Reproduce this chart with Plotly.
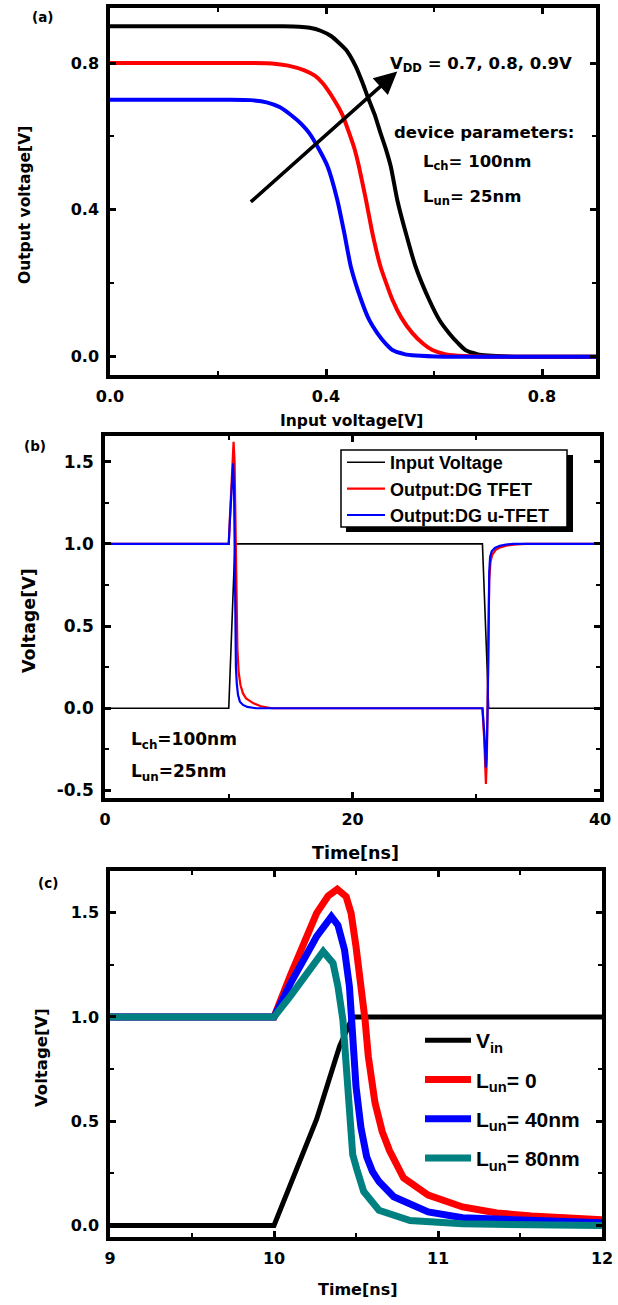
import plotly.graph_objects as go

W, H = 618, 1305
def X(px): return px / W
def Y(py): return 1 - py / H

# ---------------- panel (a): voltage transfer characteristics ----------------
a_x_09 = [0.0, 0.26, 0.32, 0.35, 0.37, 0.39, 0.41, 0.437, 0.455, 0.468, 0.477, 0.490, 0.501, 0.511, 0.520, 0.532, 0.548,
          0.566, 0.591, 0.61, 0.628, 0.645, 0.658, 0.68, 0.70, 0.75, 0.90]
a_y_09 = [0.9, 0.9, 0.9, 0.899, 0.896, 0.888, 0.873, 0.836, 0.791, 0.745, 0.709, 0.66, 0.609, 0.565, 0.518, 0.427, 0.336,
          0.245, 0.155, 0.100, 0.064, 0.036, 0.018, 0.007, 0.003, 0.0, 0.0]
a_x_08 = [0.0, 0.26, 0.30, 0.33, 0.36, 0.38, 0.394, 0.415, 0.430, 0.443, 0.453, 0.461, 0.474, 0.486, 0.501, 0.523, 0.540,
          0.560, 0.580, 0.597, 0.62, 0.64, 0.70, 0.90]
a_y_08 = [0.8, 0.8, 0.799, 0.793, 0.78, 0.765, 0.745, 0.700, 0.66, 0.609, 0.565, 0.518, 0.427, 0.336, 0.245, 0.155, 0.105,
          0.064, 0.035, 0.018, 0.007, 0.003, 0.0, 0.0]
a_x_07 = [0.0, 0.22, 0.26, 0.29, 0.314, 0.338, 0.355, 0.369, 0.387, 0.403, 0.421, 0.434, 0.446, 0.465, 0.480, 0.495,
          0.510, 0.523, 0.545, 0.566, 0.62, 0.90]
a_y_07 = [0.7, 0.7, 0.699, 0.693, 0.680, 0.655, 0.633, 0.609, 0.565, 0.518, 0.427, 0.336, 0.245, 0.155, 0.100, 0.064,
          0.036, 0.018, 0.007, 0.003, 0.0, 0.0]
a_arrow_tail = (0.258, 0.418)
a_arrow_tip = (0.532, 0.777)
a_xticks = [0.0, 0.4, 0.8]
a_xtext = ["0.0", "0.4", "0.8"]
a_yticks = [0.0, 0.4, 0.8]
a_ytext = ["0.0", "0.4", "0.8"]

# ---------------- panel (b): transient over 0-40 ns ----------------
b_in_t = [0, 10.0, 10.5, 30.5, 31.0, 40]
b_in_v = [0, 0, 1, 1, 0, 0]
b_red_t = [0, 10.0, 10.1, 10.2, 10.3, 10.39, 10.47, 10.5, 10.555, 10.62, 10.70, 10.8, 10.95, 11.15, 11.4, 12.0, 12.6, 13.5,
           30.5, 30.65, 30.78, 30.86, 30.92, 30.98, 31.05, 31.15, 31.3, 31.6, 32.0, 32.5, 33.2, 34.0, 40]
b_red_v = [1, 1, 1.17, 1.34, 1.5, 1.62, 1.50, 1.34, 0.99, 0.6, 0.36, 0.22, 0.14, 0.09, 0.06, 0.03, 0.012, 0.0,
           0.0, -0.2, -0.46, -0.3, 0.0, 0.5, 0.78, 0.89, 0.935, 0.965, 0.98, 0.99, 0.997, 1.0, 1.0]
b_blue_t = [0, 10.0, 10.1, 10.2, 10.35, 10.43, 10.48, 10.53, 10.58, 10.65, 10.75, 10.9, 11.15, 11.5, 12.2,
            30.5, 30.65, 30.78, 30.86, 30.92, 30.98, 31.05, 31.12, 31.25, 31.5, 31.9, 32.4, 33.0, 40]
b_blue_v = [1, 1, 1.15, 1.3, 1.49, 1.32, 0.9, 0.45, 0.25, 0.15, 0.08, 0.04, 0.02, 0.008, 0.0,
            0.0, -0.15, -0.36, -0.22, 0.0, 0.55, 0.83, 0.92, 0.955, 0.975, 0.988, 0.995, 1.0, 1.0]
b_names = ["Input Voltage", "Output:DG TFET", "Output:DG u-TFET"]
b_xticks = [0, 20, 40]
b_xtext = ["0", "20", "40"]
b_yticks = [-0.5, 0.0, 0.5, 1.0, 1.5]
b_ytext = ["-0.5", "0.0", "0.5", "1.0", "1.5"]

# ---------------- panel (c): zoom 9-12 ns ----------------
c_in_t = [9, 10.0, 10.26, 10.40, 10.48, 12]
c_in_v = [0, 0, 0.51, 0.86, 1.0, 1.0]
c_l0_t = [9, 10.0, 10.1, 10.2, 10.26, 10.33, 10.386, 10.44, 10.47, 10.50, 10.535, 10.555, 10.575, 10.616, 10.66,
          10.705, 10.79, 10.94, 11.15, 11.36, 11.57, 12.0]
c_l0_v = [1, 1, 1.2, 1.38, 1.498, 1.58, 1.613, 1.577, 1.498, 1.338, 1.146, 0.987, 0.811, 0.588, 0.45,
          0.358, 0.228, 0.146, 0.089, 0.06, 0.046, 0.028]
c_l40_t = [9, 10.0, 10.1, 10.2, 10.26, 10.35, 10.39, 10.43, 10.46, 10.48, 10.50, 10.53, 10.565, 10.6, 10.64,
           10.73, 10.94, 11.15, 11.57, 12.0]
c_l40_v = [1, 1, 1.16, 1.31, 1.386, 1.481, 1.44, 1.322, 1.146, 0.907, 0.667, 0.47, 0.33, 0.26, 0.211,
           0.138, 0.065, 0.037, 0.021, 0.013]
c_l80_t = [9, 10.0, 10.1, 10.2, 10.30, 10.36, 10.39, 10.42, 10.44, 10.46, 10.48, 10.505, 10.547, 10.64, 10.83,
           11.15, 11.5, 12.0]
c_l80_v = [1, 1, 1.1, 1.21, 1.314, 1.258, 1.146, 0.987, 0.747, 0.508, 0.34, 0.27, 0.163, 0.073, 0.024,
           0.008, 0.003, 0.0]
c_names = ["V<sub>in</sub>", "L<sub>un</sub>= 0", "L<sub>un</sub>= 40nm", "L<sub>un</sub>= 80nm"]
c_xticks = [9, 10, 11, 12]
c_xtext = ["9", "10", "11", "12"]
c_yticks = [0.0, 0.5, 1.0, 1.5]
c_ytext = ["0.0", "0.5", "1.0", "1.5"]

FONT = "DejaVu Sans"
LFONT = "Liberation Sans, Arial"
BLACK, RED, BLUE, TEAL = "#000000", "#ff0000", "#0000ff", "#008080"

fig = go.Figure()

# (a)
for xs, ys, col in [(a_x_09, a_y_09, BLACK), (a_x_08, a_y_08, RED), (a_x_07, a_y_07, BLUE)]:
    fig.add_trace(go.Scatter(x=xs, y=ys, mode="lines", xaxis="x", yaxis="y", showlegend=False,
                             line=dict(color=col, width=4, shape="spline", smoothing=0.5)))
# (b)
for xs, ys, col, w, nm in [(b_in_t, b_in_v, BLACK, 1.6, b_names[0]), (b_red_t, b_red_v, RED, 2.2, b_names[1]),
                           (b_blue_t, b_blue_v, BLUE, 2.2, b_names[2])]:
    fig.add_trace(go.Scatter(x=xs, y=ys, mode="lines", xaxis="x2", yaxis="y2", name=nm, legend="legend",
                             line=dict(color=col, width=w)))
# (c)
for i, (xs, ys, col, w) in enumerate([(c_in_t, c_in_v, BLACK, 5), (c_l0_t, c_l0_v, RED, 7),
                                      (c_l40_t, c_l40_v, BLUE, 7), (c_l80_t, c_l80_v, TEAL, 7)]):
    fig.add_trace(go.Scatter(x=xs, y=ys, mode="lines", xaxis="x3", yaxis="y3", name=c_names[i],
                             legend="legend2", legendgroup="g%d" % i,
                             line=dict(color=col, width=w)))

def ax(domain, rng, tv, tt, minor_dtick, tick0=0, anchor=None, fsize=16):
    return dict(domain=domain, range=rng, tickmode="array", tickvals=tv, ticktext=tt, anchor=anchor,
                automargin=False,
                showline=True, linewidth=3.5, linecolor="black", mirror="allticks",
                ticks="inside", ticklen=6, tickwidth=3, tickcolor="black",
                showgrid=False, zeroline=False, ticklabelstandoff=4,
                tickfont=dict(family=FONT, size=fsize, color="black", weight="bold"),
                minor=dict(dtick=minor_dtick, tick0=tick0, ticks="inside", ticklen=4, tickwidth=2,
                           tickcolor="black", showgrid=False))

layout = dict(
    template="none",
    width=W, height=H, autosize=False, margin=dict(l=0, r=0, t=0, b=0, pad=0, autoexpand=False),
    paper_bgcolor="white", plot_bgcolor="white",
    font=dict(family=FONT, color="black", weight="bold"),
    xaxis=ax([X(110), X(596)], [0, 0.9], a_xticks, a_xtext, 0.2, anchor="y"),
    yaxis=ax([Y(375), Y(8)], [-0.05, 0.95], a_yticks, a_ytext, 0.2, anchor="x"),
    xaxis2=ax([X(105), X(600)], [0, 40], b_xticks, b_xtext, 10, anchor="y2"),
    yaxis2=ax([Y(798), Y(436)], [-0.546, 1.656], b_yticks, b_ytext, 0.25, anchor="x2", fsize=17),
    xaxis3=ax([X(110), X(602)], [9, 12], c_xticks, c_xtext, 0.5, tick0=9, anchor="y3"),
    yaxis3=ax([Y(1237), Y(871)], [-0.055, 1.70], c_yticks, c_ytext, 0.25, anchor="x3"),
    legend=dict(x=X(342), y=Y(444), xanchor="left", yanchor="top", bgcolor="rgba(0,0,0,0)",
                borderwidth=0, font=dict(family=LFONT, size=18, color="black", weight="bold"),
                itemwidth=38, tracegroupgap=0),
    legend2=dict(x=X(420), y=Y(1020), xanchor="left", yanchor="top", bgcolor="rgba(0,0,0,0)",
                 borderwidth=0, font=dict(family=LFONT, size=21, color="black", weight="bold"),
                 itemwidth=46, tracegroupgap=9),
    showlegend=True,
)
fig.update_layout(**layout)

# legend box with shadow for (b)
fig.add_shape(type="rect", xref="paper", yref="paper", x0=X(346), x1=X(573), y0=Y(532), y1=Y(455),
              fillcolor="black", line=dict(width=0), layer="above")
fig.add_shape(type="rect", xref="paper", yref="paper", x0=X(341), x1=X(567), y0=Y(527), y1=Y(450),
              fillcolor="white", line=dict(color="black", width=1.5), layer="above")

def txt(x, y, s, size, xanchor="left", angle=0, yanchor="middle"):
    fig.add_annotation(x=X(x), y=Y(y), xref="paper", yref="paper", text=s, showarrow=False,
                       xanchor=xanchor, yanchor=yanchor, textangle=angle,
                       font=dict(family=FONT, size=size, color="black", weight="bold"))

# panel labels
txt(42, 17, "(a)", 13.5, xanchor="center")
txt(35, 446, "(b)", 13.5, xanchor="center")
txt(48, 883, "(c)", 13.5, xanchor="center")
# axis titles
txt(25, 205, "Output voltage[V]", 15.5, xanchor="center", angle=-90)
txt(351, 421, "Input voltage[V]", 15.5, xanchor="center")
txt(29, 621, "Voltage[V]", 17.5, xanchor="center", angle=-90)
txt(355, 853, "Time[ns]", 17.5, xanchor="center")
txt(41, 1058, "Voltage[V]", 16.5, xanchor="center", angle=-90)
txt(357, 1289, "Time[ns]", 16, xanchor="center")
# (a) texts
txt(388, 64, "V<sub>DD</sub> = 0.7, 0.8, 0.9V", 16.5)
txt(392, 132, "device parameters:", 16.5)
txt(421, 163, "L<sub>ch</sub>= 100nm", 16.5)
txt(421, 197, "L<sub>un</sub>= 25nm", 16.5)
# (b) texts
txt(129, 740, "L<sub>ch</sub>=100nm", 17)
txt(129, 772, "L<sub>un</sub>=25nm", 17)

# arrow in (a)
fig.add_annotation(x=a_arrow_tip[0], y=a_arrow_tip[1], ax=a_arrow_tail[0], ay=a_arrow_tail[1],
                   xref="x", yref="y", axref="x", ayref="y", text="", showarrow=True,
                   arrowhead=2, arrowsize=1.3, arrowwidth=3.5, arrowcolor="black", standoff=0)

# remove the default page margin so the 618x1305 figure fills the window exactly
page_js = ("document.documentElement.style.margin='0';document.documentElement.style.padding='0';"
           "document.documentElement.style.overflow='hidden';"
           "document.body.style.margin='0';document.body.style.padding='0';"
           "document.body.style.overflow='hidden';")
fig.write_html("out.html", post_script=page_js, config={"displayModeBar": False})
